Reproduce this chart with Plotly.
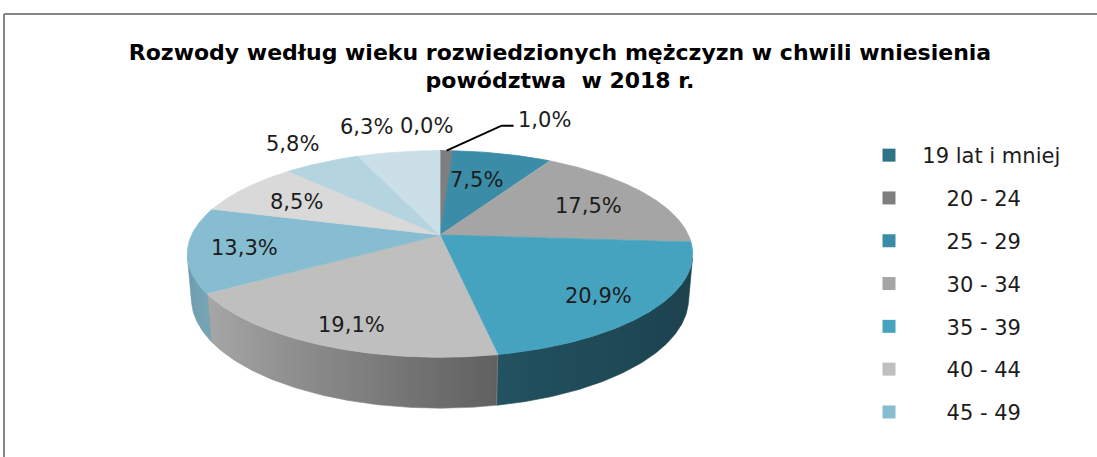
import math
import plotly.graph_objects as go

# ---------------- data ----------------
CATEGORIES = ["19 lat i mniej", "20 - 24", "25 - 29", "30 - 34", "35 - 39",
              "40 - 44", "45 - 49", "50 - 54", "55 - 59", "60 lat i więcej"]
SHARES = [0.0, 1.0, 7.5, 17.5, 20.9, 19.1, 13.3, 8.5, 5.8, 6.3]
TITLE_LINES = ["Rozwody według wieku rozwiedzionych mężczyzn w chwili wniesienia",
               "powództwa  w 2018 r."]

# ---------------- style ----------------
COLORS = ["#2f7486", "#7f7f7f", "#3b8ca7", "#a5a5a5", "#46a3c0",
          "#bfbfbf", "#86bdd0", "#d9d9d9", "#b4d4df", "#cadfe7"]
LEGEND_SHOWN = 7
FONT = "DejaVu Sans"
TEXT_COLOR = "#1c1c1c"

# 3D projection parameters (pixel space)
CX, CY = 440.0, 235.0
FOCAL = 1242.0
DIST = 5.0
TILT = math.radians(23.7)
DEPTH = 0.195

# label placement (radius factor on the top face, pixel nudges)
LABEL_R = [1.3, 1.0, 0.64, 0.72, 0.78, 0.78, 0.78, 0.72, 1.3, 1.3]
LABEL_DX = [-14, 0, -6, 0, -2, 0, 0, 0, 0, -22]
LABEL_DY = [-4, 0, 0, 3, 4, 8, 1.5, 2, 0, -5]
LEADER_INDEX = 1
LEADER_KNEE = (55, -25)
LEADER_TAIL = 12


def project(phi_deg, r, z=0.0):
    p = math.radians(phi_deg)
    X = r * math.sin(p)
    Y = r * math.cos(p)
    up = Y * math.sin(TILT) + z * math.cos(TILT)
    dep = DIST + Y * math.cos(TILT) - z * math.sin(TILT)
    return CX + FOCAL * X / dep, CY - FOCAL * up / dep


def arc(a, b, z=0.0, step=0.5):
    n = max(2, int(abs(b - a) / step) + 1)
    pts = [project(a + (b - a) * k / (n - 1), 1.0, z) for k in range(n)]
    return [p[0] for p in pts], [p[1] for p in pts]


def hex_to_rgb(h):
    h = h.lstrip("#")
    return tuple(int(h[i:i + 2], 16) for i in (0, 2, 4))


def shade(color, f):
    r, g, b = hex_to_rgb(color)
    return "rgb(%d,%d,%d)" % (min(255, r * f), min(255, g * f), min(255, b * f))


# brightness of the side wall as a function of horizontal position sin(phi)
SHADE_PTS = [(-1.0, 0.80), (-0.85, 0.88), (0.2, 0.50), (1.0, 0.40)]


def brightness(s):
    for (x0, y0), (x1, y1) in zip(SHADE_PTS[:-1], SHADE_PTS[1:]):
        if s <= x1:
            t = (s - x0) / (x1 - x0)
            return y0 + t * (y1 - y0)
    return SHADE_PTS[-1][1]


total = sum(SHARES)
starts, ends = [], []
acc = 0.0
for v in SHARES:
    starts.append(acc / total * 360.0)
    acc += v
    ends.append(acc / total * 360.0)

fig = go.Figure()

# ---- side walls (visible front part of the cylinder) ----
vis_a = math.degrees(math.acos(-1.0 / (DIST * math.cos(TILT))))
vis_b = 360.0 - vis_a
for i, v in enumerate(SHARES):
    a = max(starts[i], vis_a)
    b = min(ends[i], vis_b)
    if b - a <= 0.05:
        continue
    tx, ty = arc(a, b, 0.0)
    bx, by = arc(b, a, -DEPTH)
    xs = tx + bx + [tx[0]]
    ys = ty + by + [ty[0]]
    n = 8
    stops = []
    xmin, xmax = min(xs), max(xs)
    for k in range(n + 1):
        ph = a + (b - a) * k / n
        px, _ = project(ph, 1.0)
        pos = 0.0 if xmax == xmin else (px - xmin) / (xmax - xmin)
        stops.append((min(1.0, max(0.0, pos)),
                      shade(COLORS[i], brightness(math.sin(math.radians(ph))))))
    stops.sort(key=lambda s: s[0])
    stops[0] = (0.0, stops[0][1])
    stops[-1] = (1.0, stops[-1][1])
    mid_col = shade(COLORS[i], brightness(math.sin(math.radians((a + b) / 2))))
    fig.add_trace(go.Scatter(
        x=xs, y=ys, mode="lines", fill="toself",
        fillgradient=dict(type="horizontal", colorscale=[[p, c] for p, c in stops]),
        line=dict(width=0.6, color=mid_col),
        hoverinfo="skip", showlegend=False))

# ---- top faces ----
for i, v in enumerate(SHARES):
    ax, ay = arc(starts[i], ends[i], 0.0, step=0.25)
    xs = [CX] + ax + [CX]
    ys = [CY] + ay + [CY]
    fig.add_trace(go.Scatter(
        x=xs, y=ys, mode="lines", fill="toself", fillcolor=COLORS[i],
        line=dict(width=0.8, color=COLORS[i]),
        name=CATEGORIES[i], hoverinfo="name", showlegend=False))

# ---- legend entries (first items only, as in the source chart) ----
for i in range(LEGEND_SHOWN):
    pad = "\u00a0\u00a0" if i == 0 else "\u00a0" * 5 + "\u2009"
    fig.add_trace(go.Scatter(
        x=[None], y=[None], mode="markers",
        marker=dict(symbol="square", size=13, color=COLORS[i]),
        name=pad + CATEGORIES[i], legendgroup="g%d" % i, showlegend=True))

# ---- data labels ----
annotations = []
for i, v in enumerate(SHARES):
    txt = ("%.1f" % v).replace(".", ",") + "%"
    mid = (starts[i] + ends[i]) / 2.0
    if i == LEADER_INDEX:
        sx, sy = project(mid, 1.0)
        kx, ky = sx + LEADER_KNEE[0], sy + LEADER_KNEE[1]
        ex, ey = kx + LEADER_TAIL, ky
        fig.add_trace(go.Scatter(x=[sx, kx, ex], y=[sy, ky, ey], mode="lines",
                                 line=dict(color="#000000", width=2),
                                 hoverinfo="skip", showlegend=False))
        annotations.append(dict(x=ex + 2, y=ey - 6, text=txt, showarrow=False,
                                xanchor="left", yanchor="middle", xref="x", yref="y",
                                font=dict(family=FONT, size=21, color=TEXT_COLOR)))
        continue
    px, py = project(mid, LABEL_R[i])
    annotations.append(dict(x=px + LABEL_DX[i], y=py + LABEL_DY[i], text=txt,
                            showarrow=False, xanchor="center", yanchor="middle",
                            xref="x", yref="y",
                            font=dict(family=FONT, size=21, color=TEXT_COLOR)))

W, H = 1097, 457
fig.update_layout(
    width=W, height=H, autosize=False,
    margin=dict(l=0, r=0, t=0, b=0),
    paper_bgcolor="white", plot_bgcolor="white",
    title=dict(text="<b>" + "<br>".join(TITLE_LINES) + "</b>",
               x=560 / W, xanchor="center", y=1 - 59.5 / H, yanchor="middle",
               font=dict(family=FONT, size=22, color="#000000")),
    xaxis=dict(range=[0, W], visible=False, fixedrange=True),
    yaxis=dict(range=[H, 0], visible=False, fixedrange=True),
    legend=dict(x=869 / W, xanchor="left", y=1 - 135 / H, yanchor="top",
                font=dict(family=FONT, size=21, color=TEXT_COLOR),
                tracegroupgap=12.5, bgcolor="rgba(0,0,0,0)", traceorder="grouped"),
    annotations=annotations,
    shapes=[
        dict(type="line", xref="x", yref="y", x0=4, x1=W, y0=14, y1=14,
             line=dict(color="#868686", width=2)),
        dict(type="line", xref="x", yref="y", x0=4, x1=4, y0=14, y1=H,
             line=dict(color="#868686", width=2)),
    ],
    showlegend=True,
)

fig.write_html("out.html", config={"displayModeBar": False},
               post_script="document.body.style.margin='0';document.body.style.overflow='hidden';")
